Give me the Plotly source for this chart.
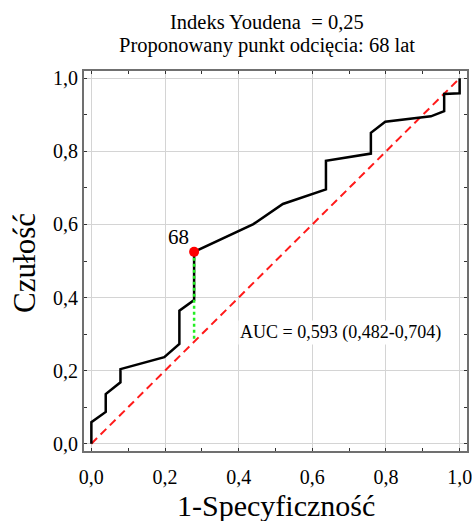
import plotly.graph_objects as go

# ROC curve points (1 - specificity, sensitivity)
fpr = [0, 0, 0.039, 0.039, 0.079, 0.079, 0.198, 0.239, 0.239, 0.279, 0.279,
       0.44, 0.52, 0.637, 0.637, 0.759, 0.759, 0.798, 0.922, 0.958, 0.958, 1.0, 1.0]
tpr = [0, 0.059, 0.087, 0.136, 0.168, 0.204, 0.237, 0.273, 0.364, 0.393, 0.525,
       0.601, 0.656, 0.696, 0.774, 0.794, 0.851, 0.881, 0.896, 0.910, 0.957, 0.959, 1.0]

# Optimal cut-off point (Youden index)
cut_x = 0.279
cut_y = 0.525
cut_label = "68"

ref_x = [0, 1]
ref_y = [0, 1]

tick_vals = [0, 0.2, 0.4, 0.6, 0.8, 1.0]
tick_text = ["0,0", "0,2", "0,4", "0,6", "0,8", "1,0"]

title_lines = ["Indeks Youdena  = 0,25", "Proponowany punkt odcięcia: 68 lat"]
x_title = "1-Specyficzność"
y_title = "Czułość"
auc_text = "AUC = 0,593 (0,482-0,704)"

SERIF = "Liberation Serif"

fig = go.Figure()

fig.add_trace(go.Scatter(x=ref_x, y=ref_y, mode="lines",
                         line=dict(color="#ff1a1a", width=2, dash="8px,5px"),
                         hoverinfo="skip"))
fig.add_trace(go.Scatter(x=fpr, y=tpr, mode="lines",
                         line=dict(color="black", width=2.5),
                         hoverinfo="skip"))
fig.add_trace(go.Scatter(x=[cut_x, cut_x], y=[cut_y, cut_x], mode="lines",
                         line=dict(color="#22ee22", width=2.5, dash="3px,3px"),
                         hoverinfo="skip"))
fig.add_trace(go.Scatter(x=[cut_x], y=[cut_y], mode="markers",
                         marker=dict(color="#ff0000", size=10,
                                     line=dict(color="#ee0000", width=0)),
                         hoverinfo="skip"))

axis_common = dict(
    range=[-0.02, 1.02],
    tickvals=tick_vals,
    ticktext=tick_text,
    automargin=False,
    ticklabeloverflow="allow",
    showgrid=True,
    gridcolor="#d4d4d4",
    gridwidth=1,
    zeroline=False,
    showline=True,
    linecolor="#707070",
    linewidth=2,
    mirror="allticks",
    ticks="inside",
    ticklen=3,
    tickcolor="#333333",
    tickfont=dict(family=SERIF, size=20, color="black"),
    minor=dict(dtick=0.1, tick0=0, ticks="inside", ticklen=3,
               tickcolor="#333333", showgrid=False),
)

fig.update_xaxes(**axis_common, ticklabelstandoff=7)
fig.update_yaxes(**axis_common)

# Axis titles
fig.add_annotation(xref="paper", yref="paper", x=0.5, y=0, yshift=-54,
                   text=x_title, showarrow=False,
                   xanchor="center", yanchor="middle",
                   font=dict(family=SERIF, size=30, color="black"))
fig.add_annotation(xref="paper", yref="paper", x=0, y=0.495, xshift=-59,
                   text=y_title, showarrow=False, textangle=-90,
                   xanchor="center", yanchor="middle",
                   font=dict(family=SERIF, size=31, color="black"))

fig.add_annotation(x=cut_x, y=cut_y, text=cut_label, showarrow=False,
                   xanchor="right", yanchor="bottom", xshift=-3, yshift=1,
                   font=dict(family=SERIF, size=21, color="black"))
fig.add_annotation(x=0.398, y=0.303, text=auc_text, showarrow=False,
                   xanchor="left", yanchor="middle", bgcolor="white",
                   font=dict(family=SERIF, size=18, color="black"))
fig.add_annotation(xref="paper", yref="paper", x=0.478, y=1.0, yshift=49,
                   text=title_lines[0], showarrow=False,
                   xanchor="center", yanchor="middle",
                   font=dict(family=SERIF, size=20.5, color="black"))
fig.add_annotation(xref="paper", yref="paper", x=0.478, y=1.0, yshift=26,
                   text=title_lines[1], showarrow=False,
                   xanchor="center", yanchor="middle",
                   font=dict(family=SERIF, size=20.5, color="black"))

fig.update_layout(
    width=472, height=521,
    margin=dict(l=84, r=5, t=71, b=70),
    paper_bgcolor="white",
    plot_bgcolor="white",
    showlegend=False,
    separators=", ",
)

fig.write_html("out.html")
